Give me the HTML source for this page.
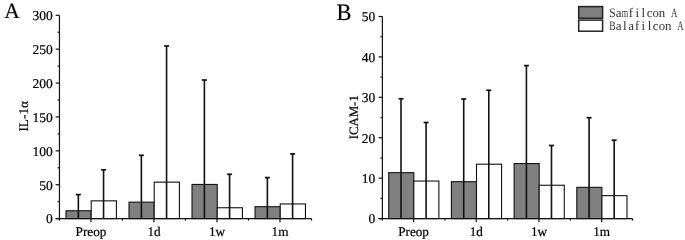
<!DOCTYPE html>
<html><head><meta charset="utf-8"><style>
html,body{margin:0;padding:0;background:#fff;}
svg{display:block;text-rendering:geometricPrecision;will-change:transform;}
text{font-family:"Liberation Serif",serif;fill:#000;stroke:#000;stroke-width:0.2px;}
</style></head><body>
<svg width="685" height="240" viewBox="0 0 685 240">
<rect width="685" height="240" fill="#fff"/>
<text x="4.2" y="18" font-size="21.5">A</text>
<text transform="translate(336.6,19.6) scale(0.95,1)" font-size="23.6">B</text>
<text transform="translate(28.0,131.6) rotate(-90)" font-size="13.3">IL-1α</text>
<text transform="translate(357.5,139.3) rotate(-90)" font-size="12.8">ICAM-1</text>
<rect x="66.00" y="210.75" width="25.21" height="7.85" fill="#808080" stroke="#111" stroke-width="1.1"/>
<rect x="91.21" y="200.85" width="25.21" height="17.75" fill="#fff" stroke="#111" stroke-width="1.1"/>
<line x1="78.35" y1="218.60" x2="78.35" y2="194.60" stroke="#111" stroke-width="1.6"/>
<rect x="75.85" y="193.75" width="5.00" height="1.70" fill="#111"/>
<line x1="103.56" y1="218.60" x2="103.56" y2="169.80" stroke="#111" stroke-width="1.6"/>
<rect x="101.06" y="168.95" width="5.00" height="1.70" fill="#111"/>
<text x="90.96" y="235.5" text-anchor="middle" font-size="13.2">Preop</text>
<line x1="90.96" y1="218.60" x2="90.96" y2="222.20" stroke="#111" stroke-width="1.2"/>
<line x1="122.46" y1="218.60" x2="122.46" y2="220.60" stroke="#111" stroke-width="1.2"/>
<rect x="129.01" y="202.15" width="25.21" height="16.45" fill="#808080" stroke="#111" stroke-width="1.1"/>
<rect x="154.22" y="182.15" width="25.21" height="36.45" fill="#fff" stroke="#111" stroke-width="1.1"/>
<line x1="141.37" y1="218.60" x2="141.37" y2="155.30" stroke="#111" stroke-width="1.6"/>
<rect x="138.87" y="154.45" width="5.00" height="1.70" fill="#111"/>
<line x1="166.57" y1="218.60" x2="166.57" y2="46.00" stroke="#111" stroke-width="1.6"/>
<rect x="164.07" y="45.15" width="5.00" height="1.70" fill="#111"/>
<text x="153.97" y="235.5" text-anchor="middle" font-size="13.2">1d</text>
<line x1="153.97" y1="218.60" x2="153.97" y2="222.20" stroke="#111" stroke-width="1.2"/>
<line x1="185.48" y1="218.60" x2="185.48" y2="220.60" stroke="#111" stroke-width="1.2"/>
<rect x="192.03" y="184.45" width="25.21" height="34.15" fill="#808080" stroke="#111" stroke-width="1.1"/>
<rect x="217.23" y="207.75" width="25.21" height="10.85" fill="#fff" stroke="#111" stroke-width="1.1"/>
<line x1="204.38" y1="218.60" x2="204.38" y2="80.00" stroke="#111" stroke-width="1.6"/>
<rect x="201.88" y="79.15" width="5.00" height="1.70" fill="#111"/>
<line x1="229.58" y1="218.60" x2="229.58" y2="174.30" stroke="#111" stroke-width="1.6"/>
<rect x="227.08" y="173.45" width="5.00" height="1.70" fill="#111"/>
<text x="216.98" y="235.5" text-anchor="middle" font-size="13.2">1w</text>
<line x1="216.98" y1="218.60" x2="216.98" y2="222.20" stroke="#111" stroke-width="1.2"/>
<line x1="248.49" y1="218.60" x2="248.49" y2="220.60" stroke="#111" stroke-width="1.2"/>
<rect x="255.04" y="206.70" width="25.21" height="11.90" fill="#808080" stroke="#111" stroke-width="1.1"/>
<rect x="280.24" y="203.95" width="25.21" height="14.65" fill="#fff" stroke="#111" stroke-width="1.1"/>
<line x1="267.39" y1="218.60" x2="267.39" y2="177.60" stroke="#111" stroke-width="1.6"/>
<rect x="264.89" y="176.75" width="5.00" height="1.70" fill="#111"/>
<line x1="292.60" y1="218.60" x2="292.60" y2="153.90" stroke="#111" stroke-width="1.6"/>
<rect x="290.10" y="153.05" width="5.00" height="1.70" fill="#111"/>
<text x="279.99" y="235.5" text-anchor="middle" font-size="13.2">1m</text>
<line x1="279.99" y1="218.60" x2="279.99" y2="222.20" stroke="#111" stroke-width="1.2"/>
<line x1="311.50" y1="218.60" x2="311.50" y2="220.60" stroke="#111" stroke-width="1.2"/>
<line x1="59.45" y1="15.30" x2="59.45" y2="220.60" stroke="#111" stroke-width="1.2"/>
<line x1="55.65" y1="218.60" x2="311.50" y2="218.60" stroke="#111" stroke-width="1.2"/>
<line x1="55.65" y1="218.60" x2="59.45" y2="218.60" stroke="#111" stroke-width="1.2"/>
<text transform="translate(52.80,223.40) scale(1.0,1)" text-anchor="end" font-size="13.5">0</text>
<line x1="55.65" y1="184.72" x2="59.45" y2="184.72" stroke="#111" stroke-width="1.2"/>
<text transform="translate(52.80,189.52) scale(1.0,1)" text-anchor="end" font-size="13.5">50</text>
<line x1="55.65" y1="150.83" x2="59.45" y2="150.83" stroke="#111" stroke-width="1.2"/>
<text transform="translate(52.80,155.63) scale(1.0,1)" text-anchor="end" font-size="13.5">100</text>
<line x1="55.65" y1="116.95" x2="59.45" y2="116.95" stroke="#111" stroke-width="1.2"/>
<text transform="translate(52.80,121.75) scale(1.0,1)" text-anchor="end" font-size="13.5">150</text>
<line x1="55.65" y1="83.07" x2="59.45" y2="83.07" stroke="#111" stroke-width="1.2"/>
<text transform="translate(52.80,87.87) scale(1.0,1)" text-anchor="end" font-size="13.5">200</text>
<line x1="55.65" y1="49.18" x2="59.45" y2="49.18" stroke="#111" stroke-width="1.2"/>
<text transform="translate(52.80,53.98) scale(1.0,1)" text-anchor="end" font-size="13.5">250</text>
<line x1="55.65" y1="15.30" x2="59.45" y2="15.30" stroke="#111" stroke-width="1.2"/>
<text transform="translate(52.80,20.10) scale(1.0,1)" text-anchor="end" font-size="13.5">300</text>
<line x1="57.55" y1="201.66" x2="59.45" y2="201.66" stroke="#111" stroke-width="1.2"/>
<line x1="57.55" y1="167.78" x2="59.45" y2="167.78" stroke="#111" stroke-width="1.2"/>
<line x1="57.55" y1="133.89" x2="59.45" y2="133.89" stroke="#111" stroke-width="1.2"/>
<line x1="57.55" y1="100.01" x2="59.45" y2="100.01" stroke="#111" stroke-width="1.2"/>
<line x1="57.55" y1="66.12" x2="59.45" y2="66.12" stroke="#111" stroke-width="1.2"/>
<line x1="57.55" y1="32.24" x2="59.45" y2="32.24" stroke="#111" stroke-width="1.2"/>
<rect x="388.72" y="172.65" width="25.08" height="45.95" fill="#808080" stroke="#111" stroke-width="1.1"/>
<rect x="413.80" y="181.05" width="25.08" height="37.55" fill="#fff" stroke="#111" stroke-width="1.1"/>
<line x1="401.01" y1="218.60" x2="401.01" y2="98.75" stroke="#111" stroke-width="1.6"/>
<rect x="398.51" y="97.90" width="5.00" height="1.70" fill="#111"/>
<line x1="426.09" y1="218.60" x2="426.09" y2="122.50" stroke="#111" stroke-width="1.6"/>
<rect x="423.59" y="121.65" width="5.00" height="1.70" fill="#111"/>
<text x="413.55" y="235.5" text-anchor="middle" font-size="13.2">Preop</text>
<line x1="413.55" y1="218.60" x2="413.55" y2="222.20" stroke="#111" stroke-width="1.2"/>
<line x1="444.90" y1="218.60" x2="444.90" y2="220.60" stroke="#111" stroke-width="1.2"/>
<rect x="451.42" y="181.70" width="25.08" height="36.90" fill="#808080" stroke="#111" stroke-width="1.1"/>
<rect x="476.50" y="164.20" width="25.08" height="54.40" fill="#fff" stroke="#111" stroke-width="1.1"/>
<line x1="463.71" y1="218.60" x2="463.71" y2="99.00" stroke="#111" stroke-width="1.6"/>
<rect x="461.21" y="98.15" width="5.00" height="1.70" fill="#111"/>
<line x1="488.79" y1="218.60" x2="488.79" y2="90.25" stroke="#111" stroke-width="1.6"/>
<rect x="486.29" y="89.40" width="5.00" height="1.70" fill="#111"/>
<text x="476.25" y="235.5" text-anchor="middle" font-size="13.2">1d</text>
<line x1="476.25" y1="218.60" x2="476.25" y2="222.20" stroke="#111" stroke-width="1.2"/>
<line x1="507.60" y1="218.60" x2="507.60" y2="220.60" stroke="#111" stroke-width="1.2"/>
<rect x="514.12" y="163.55" width="25.08" height="55.05" fill="#808080" stroke="#111" stroke-width="1.1"/>
<rect x="539.20" y="185.25" width="25.08" height="33.35" fill="#fff" stroke="#111" stroke-width="1.1"/>
<line x1="526.41" y1="218.60" x2="526.41" y2="65.60" stroke="#111" stroke-width="1.6"/>
<rect x="523.91" y="64.75" width="5.00" height="1.70" fill="#111"/>
<line x1="551.49" y1="218.60" x2="551.49" y2="145.50" stroke="#111" stroke-width="1.6"/>
<rect x="548.99" y="144.65" width="5.00" height="1.70" fill="#111"/>
<text x="538.95" y="235.5" text-anchor="middle" font-size="13.2">1w</text>
<line x1="538.95" y1="218.60" x2="538.95" y2="222.20" stroke="#111" stroke-width="1.2"/>
<line x1="570.30" y1="218.60" x2="570.30" y2="220.60" stroke="#111" stroke-width="1.2"/>
<rect x="576.82" y="187.35" width="25.08" height="31.25" fill="#808080" stroke="#111" stroke-width="1.1"/>
<rect x="601.90" y="195.65" width="25.08" height="22.95" fill="#fff" stroke="#111" stroke-width="1.1"/>
<line x1="589.11" y1="218.60" x2="589.11" y2="117.70" stroke="#111" stroke-width="1.6"/>
<rect x="586.61" y="116.85" width="5.00" height="1.70" fill="#111"/>
<line x1="614.19" y1="218.60" x2="614.19" y2="140.20" stroke="#111" stroke-width="1.6"/>
<rect x="611.69" y="139.35" width="5.00" height="1.70" fill="#111"/>
<text x="601.65" y="235.5" text-anchor="middle" font-size="13.2">1m</text>
<line x1="601.65" y1="218.60" x2="601.65" y2="222.20" stroke="#111" stroke-width="1.2"/>
<line x1="632.50" y1="218.60" x2="632.50" y2="220.60" stroke="#111" stroke-width="1.2"/>
<line x1="382.40" y1="16.50" x2="382.40" y2="220.60" stroke="#111" stroke-width="1.2"/>
<line x1="378.60" y1="218.60" x2="632.50" y2="218.60" stroke="#111" stroke-width="1.2"/>
<line x1="378.60" y1="218.60" x2="382.40" y2="218.60" stroke="#111" stroke-width="1.2"/>
<text transform="translate(375.20,223.40) scale(1.0,1)" text-anchor="end" font-size="13.5">0</text>
<line x1="378.60" y1="178.18" x2="382.40" y2="178.18" stroke="#111" stroke-width="1.2"/>
<text transform="translate(375.20,182.98) scale(1.0,1)" text-anchor="end" font-size="13.5">10</text>
<line x1="378.60" y1="137.76" x2="382.40" y2="137.76" stroke="#111" stroke-width="1.2"/>
<text transform="translate(375.20,142.56) scale(1.0,1)" text-anchor="end" font-size="13.5">20</text>
<line x1="378.60" y1="97.34" x2="382.40" y2="97.34" stroke="#111" stroke-width="1.2"/>
<text transform="translate(375.20,102.14) scale(1.0,1)" text-anchor="end" font-size="13.5">30</text>
<line x1="378.60" y1="56.92" x2="382.40" y2="56.92" stroke="#111" stroke-width="1.2"/>
<text transform="translate(375.20,61.72) scale(1.0,1)" text-anchor="end" font-size="13.5">40</text>
<line x1="378.60" y1="16.50" x2="382.40" y2="16.50" stroke="#111" stroke-width="1.2"/>
<text transform="translate(375.20,21.30) scale(1.0,1)" text-anchor="end" font-size="13.5">50</text>
<line x1="380.50" y1="198.39" x2="382.40" y2="198.39" stroke="#111" stroke-width="1.2"/>
<line x1="380.50" y1="157.97" x2="382.40" y2="157.97" stroke="#111" stroke-width="1.2"/>
<line x1="380.50" y1="117.55" x2="382.40" y2="117.55" stroke="#111" stroke-width="1.2"/>
<line x1="380.50" y1="77.13" x2="382.40" y2="77.13" stroke="#111" stroke-width="1.2"/>
<line x1="380.50" y1="36.71" x2="382.40" y2="36.71" stroke="#111" stroke-width="1.2"/>

<rect x="578.7" y="6.6" width="23.9" height="11.6" fill="#808080" stroke="#222" stroke-width="1.5"/>
<rect x="578.7" y="20.1" width="23.9" height="11.1" fill="#fff" stroke="#222" stroke-width="1.5"/>
<text transform="translate(612.49,16.9) scale(0.885,1)" text-anchor="middle" style="fill:#333;stroke:none" font-size="13">S</text>
<text transform="translate(618.67,16.9) scale(1.000,1)" text-anchor="middle" style="fill:#333;stroke:none" font-size="13">a</text>
<text transform="translate(624.85,16.9) scale(0.633,1)" text-anchor="middle" style="fill:#333;stroke:none" font-size="13">m</text>
<text transform="translate(631.03,16.9) scale(1.000,1)" text-anchor="middle" style="fill:#333;stroke:none" font-size="13">f</text>
<text transform="translate(637.21,16.9) scale(1.000,1)" text-anchor="middle" style="fill:#333;stroke:none" font-size="13">i</text>
<text transform="translate(643.39,16.9) scale(1.000,1)" text-anchor="middle" style="fill:#333;stroke:none" font-size="13">l</text>
<text transform="translate(649.57,16.9) scale(1.000,1)" text-anchor="middle" style="fill:#333;stroke:none" font-size="13">c</text>
<text transform="translate(655.75,16.9) scale(0.985,1)" text-anchor="middle" style="fill:#333;stroke:none" font-size="13">o</text>
<text transform="translate(661.93,16.9) scale(0.985,1)" text-anchor="middle" style="fill:#333;stroke:none" font-size="13">n</text>
<text transform="translate(674.29,16.9) scale(0.682,1)" text-anchor="middle" style="fill:#333;stroke:none" font-size="13">A</text>
<text transform="translate(612.49,29.6) scale(0.738,1)" text-anchor="middle" style="fill:#333;stroke:none" font-size="13">B</text>
<text transform="translate(618.67,29.6) scale(1.000,1)" text-anchor="middle" style="fill:#333;stroke:none" font-size="13">a</text>
<text transform="translate(624.85,29.6) scale(1.000,1)" text-anchor="middle" style="fill:#333;stroke:none" font-size="13">l</text>
<text transform="translate(631.03,29.6) scale(1.000,1)" text-anchor="middle" style="fill:#333;stroke:none" font-size="13">a</text>
<text transform="translate(637.21,29.6) scale(1.000,1)" text-anchor="middle" style="fill:#333;stroke:none" font-size="13">f</text>
<text transform="translate(643.39,29.6) scale(1.000,1)" text-anchor="middle" style="fill:#333;stroke:none" font-size="13">i</text>
<text transform="translate(649.57,29.6) scale(1.000,1)" text-anchor="middle" style="fill:#333;stroke:none" font-size="13">l</text>
<text transform="translate(655.75,29.6) scale(1.000,1)" text-anchor="middle" style="fill:#333;stroke:none" font-size="13">c</text>
<text transform="translate(661.93,29.6) scale(0.985,1)" text-anchor="middle" style="fill:#333;stroke:none" font-size="13">o</text>
<text transform="translate(668.11,29.6) scale(0.985,1)" text-anchor="middle" style="fill:#333;stroke:none" font-size="13">n</text>
<text transform="translate(680.47,29.6) scale(0.682,1)" text-anchor="middle" style="fill:#333;stroke:none" font-size="13">A</text>

</svg>
</body></html>
